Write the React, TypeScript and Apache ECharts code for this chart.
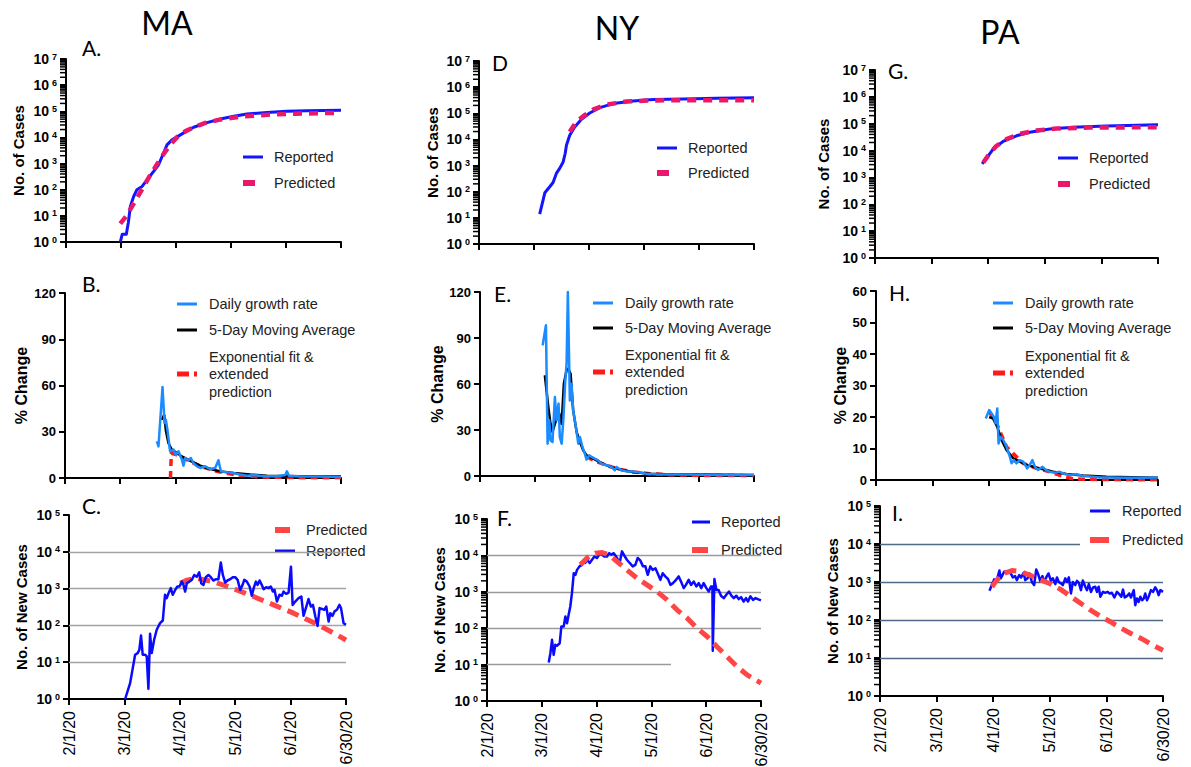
import React, { useEffect, useRef } from 'react';
import * as echarts from 'echarts';

type Pt = [number, number];

// ---------- labels ----------
const tickLabels = ['2/1/20', '3/1/20', '4/1/20', '5/1/20', '6/1/20', '6/30/20'];
const stateTitles = ['MA', 'NY', 'PA'];
const panelLetters = ['A.', 'D', 'G.', 'B.', 'E.', 'H.', 'C.', 'F.', 'I.'];
// minor (2..9 per decade) tick marks of the log axes
const minorMultipliers = [2, 3, 4, 5, 6, 7, 8, 9];
const decades7 = [1, 10, 100, 1000, 10000, 100000, 1000000];
const decades5 = [1, 10, 100, 1000, 10000];

// ---------- data (x = days since 2/1/20) ----------
// Row 1: cumulative cases
const maCumReported: Pt[] = [[29.6,1],[30.7,2],[32.9,2],[34,5.6],[35.1,23],[36.9,55],[38.7,100],[41.5,133],[44.2,240],[47.8,500],[50.5,900],[52.4,1870],[55.1,5200],[57.8,8080],[62.4,12500],[66,17800],[69.6,24600],[76.9,37000],[84.2,51000],[91.5,64700],[98.7,79000],[109.6,89000],[120.5,100000],[131.4,104000],[150,109000]];
const maCumPredicted: Pt[] = [[29.6,5],[33,10],[37,30],[41,90],[45,280],[49,800],[53,2200],[57,5500],[61,11000],[65,17000],[70,25000],[76,36000],[84,48000],[95,62000],[110,74000],[125,81000],[140,85000],[150,86000]];
const nyCumReported: Pt[] = [[33.1,14],[35.9,91],[38.6,155],[40.4,225],[42.2,500],[44,780],[45.9,1380],[47,2900],[47.7,6000],[49.5,14500],[52.2,30000],[55.9,59000],[60.4,103000],[65.9,165000],[73.2,235000],[84.1,296000],[95,334000],[111.4,355000],[129.6,376000],[150,390000]];
const nyCumPredicted: Pt[] = [[49.5,19500],[53.1,47000],[57.7,85000],[62.2,138000],[69.5,214000],[80.4,280000],[93.2,310000],[111,315000],[150,315000]];
const paCumReported: Pt[] = [[56.8,3200],[60,6300],[63,12300],[67.9,21800],[75,35500],[82,48000],[92.6,63000],[105,74000],[122.6,83000],[150,92000]];
const paCumPredicted: Pt[] = [[57.4,3600],[60.9,8000],[64.4,15000],[69.7,26500],[76.8,42000],[85.6,56000],[96.2,66000],[113.8,72000],[150,74000]];

// Row 2: % change
const maDaily: Pt[] = [[49.9,23.8],[50.8,20.5],[53,59],[54.1,35.7],[54.8,37.8],[55.7,31],[57.1,17.3],[59,18.4],[60.2,15.1],[61.7,17.3],[63.5,11.9],[64.4,8],[65.3,13],[67.1,11.5],[68.4,13],[69.8,9.7],[71.7,7.6],[73.5,6.5],[76.2,7.6],[78.9,5.8],[81.6,6.5],[83.4,11.5],[84.7,4.3],[88,3.7],[91.6,3.2],[95.2,2.2],[98.9,1.5],[102.5,2],[106.1,1.5],[109.7,1.1],[115.2,1.1],[119.7,2],[120.6,4.3],[121.7,1.5],[127.9,0.9],[137,0.9],[150,0.6]];
const maMovingAvg: Pt[] = [[52.6,37.8],[53.9,41],[54.8,31],[56.2,22.7],[58,18.4],[60.8,16.2],[63.5,14],[66.2,12.3],[69.8,10.2],[73.5,8],[77.1,6.5],[80.7,5.4],[84.4,4.3],[91.6,3.2],[100.7,2.2],[109.7,1.5],[127.9,1.1],[150,0.9]];
const maExpFit: Pt[] = [[57.3,0],[57.8,16],[60.8,15],[66.2,11.9],[73.5,7.6],[82.5,4.3],[91.6,2.2],[100.7,1.1],[109.7,0.6],[127.9,0.2],[150,0.1]];
const nyDaily: Pt[] = [[34.3,85.2],[36.1,98.3],[37,21.1],[37.9,36.3],[38.6,23.3],[39.7,22.2],[41,51.5],[41.9,36.3],[43,47.2],[43.7,25.4],[44.7,21.1],[45.6,36.3],[46.7,62.4],[47.4,73.3],[48.1,120],[49.2,49.3],[50.1,60.2],[51,42.8],[52.5,32],[53.8,21.1],[54.7,25.4],[56.1,18.9],[57.4,14.6],[58.3,10.7],[59.8,13.5],[61.1,12.4],[62.9,11.3],[64.7,10.2],[66.5,8],[69.3,7],[72,5.9],[73.8,3.7],[74.7,5.9],[77.5,3.7],[80.2,3],[83.8,3],[87.5,2.2],[91.1,1.5],[96.6,1.1],[102,0.9],[111.2,0.9],[129.4,0.7],[150,0.6]];
const nyMovingAvg: Pt[] = [[35.5,65.7],[37.4,45],[38.6,34],[39.7,28.7],[41,34],[42.3,38.5],[43.4,40.7],[44.7,34],[45.9,60.2],[47.4,69],[48.3,70],[49.6,66.7],[51,42.8],[52.9,28.7],[54.7,22.2],[56.5,16.7],[58.3,13.5],[62,11.3],[65.6,9.1],[69.3,7],[72.9,5.4],[78.4,3.7],[83.8,2.6],[93,1.5],[102,1.1],[120.3,0.9],[150,0.7]];
const nyExpFit: Pt[] = [[58.3,12.4],[65.6,8.5],[74.7,4.8],[83.8,2.6],[93,1.5],[102,0.9],[120.3,0.4],[150,0.2]];
const paDaily: Pt[] = [[58.4,19.5],[60.2,22.2],[61.5,21.1],[62.7,20],[63.6,18],[64.5,22.7],[65.2,11.6],[66.2,13.7],[67.7,12.7],[69.4,10.6],[71.2,7.4],[72.1,5.3],[73.3,6.3],[74.7,5.3],[76.5,6.3],[78.3,5.8],[80.4,3.7],[81.8,4.8],[83.2,6.3],[84.5,4.2],[86.2,3.2],[88.6,4.2],[90.3,3.2],[92.4,2.6],[95.1,2.3],[97.8,2.6],[100.4,1.9],[103.1,1.6],[106.6,1.8],[110.2,1.3],[113.7,1.1],[119,0.8],[124.3,0.8],[131.4,0.7],[140.3,0.7],[150,0.8]];
const paMovingAvg: Pt[] = [[60.2,20],[62.3,19.5],[64.5,16.9],[66.8,12.7],[69.4,9.5],[73,6.9],[76.5,5.8],[80,4.8],[83.6,4.2],[88.9,3.4],[94.2,2.6],[101.3,1.9],[110.2,1.4],[122.6,1],[150,0.7]];
const paExpFit: Pt[] = [[60.2,21.7],[64.1,18],[69.4,10.6],[74.7,7.4],[78.3,5.3],[85.4,3.7],[92.4,2.6],[99.5,1.1],[104.8,0.4],[113.7,0.2],[131.4,0.1],[150,0.1]];

// Row 3: new cases
const maNewReported: Pt[] = [[30.4,1],[33.1,2.7],[35.8,16],[37.2,17.7],[38.1,21.8],[39,53],[39.9,16],[41.2,16],[42.1,14.4],[43,1.9],[43.9,59],[44.8,17.7],[46.1,40.6],[47.5,76],[49.3,115],[50.8,136],[52,680],[52.9,550],[53.9,750],[55.1,1030],[56.2,680],[57.5,920],[58.7,1140],[59.8,1140],[61.1,1550],[62,1260],[62.9,830],[63.8,1400],[65.2,1550],[66.5,1730],[67.8,2350],[69.2,2100],[70.5,2750],[71.6,1400],[72.8,1260],[74.1,2040],[75.5,2350],[76.8,2040],[78.2,1660],[79.7,1800],[80.9,1800],[82.2,5100],[83.3,2350],[84.6,1460],[85.8,1660],[87.3,1800],[88.7,2040],[90,2040],[91.3,1730],[92.7,920],[94,1260],[94.9,1730],[96.3,1550],[97.8,1140],[99,640],[100,1030],[101.2,1550],[102.1,1260],[103.2,1660],[104.4,1260],[105.4,960],[106.8,1090],[108.1,1030],[109.3,1140],[110.4,830],[111.3,920],[112.6,445],[114,680],[115.3,640],[116.2,830],[117.6,720],[118.9,780],[120.2,3950],[121.1,360],[122.5,445],[124.3,550],[125.8,610],[127,182],[128.5,325],[129.7,520],[131,325],[132.1,360],[133.4,175],[134.6,97],[135.7,295],[137,280],[138.2,265],[139.3,325],[140.6,127],[141.5,215],[142.7,182],[143.8,240],[145.1,265],[146.4,360],[147.3,295],[148.7,115],[150,104]];
const maNewPredicted: Pt[] = [[60.2,1400],[64,1700],[69.2,1900],[78.2,1550],[89.1,1000],[99.9,610],[110.8,360],[121.6,215],[132.4,120],[143.3,62],[150,40]];
const nyNewReported: Pt[] = [[33.8,11.4],[34.7,20.5],[35.6,48],[36.5,18.5],[37.4,35],[38.3,33],[39.8,38.6],[40.7,111],[42,111],[42.9,209],[43.8,137],[44.7,233],[45.6,395],[46.5,915],[47.5,3250],[48.4,2930],[49.3,4000],[50.6,5000],[52,5500],[52.9,6800],[53.8,6200],[54.8,7600],[56.2,6200],[57.5,7600],[58.8,9300],[60.2,8500],[61.7,11100],[63,10500],[64.2,9300],[65.7,9300],[66.9,11500],[68.1,10500],[69.4,11500],[71.2,8500],[72.6,6200],[73.9,12900],[75.2,9800],[76.6,7600],[78.1,6200],[79.8,5000],[81.2,5500],[82.5,8500],[83.9,7300],[85.4,5000],[86.7,5000],[88,2930],[89.4,5000],[90.7,4000],[92.2,4450],[93.4,3250],[94.9,2130],[96.2,3250],[97.6,2650],[99.1,2250],[100.4,1550],[101.8,1730],[103.5,2130],[104.9,2650],[106.2,1920],[107.7,1260],[108.9,1550],[110.4,2130],[111.7,1550],[113.2,1920],[114.6,1400],[115.9,1730],[117.3,1260],[118.6,1730],[120.1,1260],[121.4,1020],[122.6,1400],[123.4,1400],[123.6,24],[124.5,2230],[125.6,1120],[126.8,1120],[128.1,780],[129.6,670],[131,830],[132.5,1020],[133.8,780],[135.1,670],[136.5,780],[137.8,630],[139.1,715],[140.5,540],[141.8,670],[142.9,540],[144.2,750],[145.6,600],[147,670],[148.2,630],[150,580]];
const nyNewPredicted: Pt[] = [[51.1,5500],[54.8,8500],[59.3,11500],[63,12000],[66.6,10500],[71.2,6800],[76.6,4000],[82.1,2380],[87.6,1550],[93,1020],[98.6,600],[104,320],[109.5,190],[115,100],[120.5,59],[125.9,31],[131.4,16.6],[136.9,8.8],[142.4,5.2],[150,3.1]];
const paNewReported: Pt[] = [[58,590],[59.3,830],[60.5,1170],[61.4,1010],[62.3,1320],[63.3,2000],[64,1250],[64.9,1520],[65.8,1860],[66.9,1900],[68.1,1860],[69.3,1680],[70.4,1320],[71.6,1430],[72.5,1120],[73.8,1520],[74.8,1320],[76.1,1750],[77,1120],[78.2,1250],[79.2,1680],[80.5,1000],[81.7,830],[82.8,2140],[84,1520],[84.9,1070],[86.1,1430],[87,1000],[88.1,1320],[89.3,1680],[90.6,1070],[91.6,1250],[92.9,880],[93.8,1320],[94.8,1000],[95.9,920],[96.9,830],[98.2,1250],[99.1,1000],[100.1,1320],[101.2,500],[102.2,1000],[103.5,830],[104.4,1070],[105.4,950],[106.5,610],[107.5,1100],[108.8,750],[109.7,610],[110.7,880],[111.8,550],[112.9,720],[114.1,750],[115,550],[115.9,750],[116.8,410],[118.2,550],[119.4,520],[120.6,550],[121.7,500],[122.9,520],[124.2,390],[125.6,550],[126.8,480],[127.9,410],[128.8,630],[129.7,390],[130.9,425],[132.1,500],[133,390],[134.5,610],[135.3,245],[136.2,370],[137.1,300],[138,410],[138.9,330],[139.8,370],[140.6,500],[141.5,330],[142.4,410],[143.6,610],[144.7,550],[145.9,720],[146.8,610],[147.7,450],[148.6,610],[150,550]];
const paNewPredicted: Pt[] = [[59.3,750],[61.9,1120],[65.5,1680],[69.9,2000],[74.3,1900],[79.6,1500],[84.9,1150],[90.2,900],[95.5,650],[100.8,430],[106.1,280],[111.4,185],[116.8,125],[122.1,90],[127.4,62],[132.7,45],[139.8,30],[145,21],[150,16]];

// Row 3 horizontal reference lines: [value, last day]
const maGridLines: Pt[] = [[10, 150], [100, 150], [1000, 150], [10000, 150]];
const nyGridLines: Pt[] = [[10, 100.7], [100, 150], [1000, 150], [10000, 150]];
const paGridLines: Pt[] = [[10, 150], [100, 150], [1000, 150], [10000, 106]];

// ---------- styling ----------
const FONT = "'Liberation Sans', Arial, Helvetica, sans-serif";
const TITLE_FONT = "Lato, 'Open Sans', sans-serif";
const BLUE = '#1414ff';
const PINK = '#e8196b';
const LIGHT = '#1a8cff';
const RED = '#ff1a1a';
const RED3 = '#ff4545';
const NAVY = '#0a0aff';

const grids = [
  { left: 66, top: 59, width: 275, height: 183 },
  { left: 479, top: 61, width: 275, height: 183 },
  { left: 875, top: 70, width: 283, height: 188 },
  { left: 65, top: 293, width: 276, height: 185 },
  { left: 480, top: 292, width: 274, height: 184 },
  { left: 876, top: 291, width: 282, height: 189 },
  { left: 69, top: 515, width: 277, height: 184 },
  { left: 487, top: 519, width: 274, height: 182 },
  { left: 880, top: 506, width: 283, height: 190 },
];

const axisLine = { show: true, onZero: false, lineStyle: { color: '#000', width: 2 } };
const axisTick = { show: true, length: 6, lineStyle: { color: '#000', width: 2 } };

function xAxisFor(i: number) {
  return {
    type: 'value', gridIndex: i, min: 0, max: 150, interval: 30,
    axisLine, axisTick,
    axisLabel: {
      show: i >= 6, rotate: 90, margin: 12, fontSize: 16, color: '#000', fontFamily: FONT,
      formatter: (v: number) => tickLabels[Math.round(v / 30)] ?? '',
    },
    splitLine: { show: false },
  };
}

const supRich = {
  b: { fontSize: 14, fontWeight: 'bold', fontFamily: FONT, color: '#000' },
  s: { fontSize: 9, fontWeight: 'bold', fontFamily: FONT, color: '#000', verticalAlign: 'top', padding: [0, 0, 0, 3] },
};

function nameStyle(size: number) {
  return { fontSize: size, fontWeight: 'bold', fontFamily: FONT, color: '#000' };
}

function logY(i: number, max: number, name: string, gap: number) {
  return {
    type: 'log', logBase: 10, gridIndex: i, min: 1, max, splitNumber: Math.round(Math.log10(max)),
    name, nameLocation: 'middle', nameGap: gap, nameTextStyle: nameStyle(15),
    axisLine, axisTick,
    axisLabel: {
      margin: 9,
      formatter: (v: number) => '{b|10}{s|' + Math.round(Math.log10(v)) + '}',
      rich: supRich,
    },
    splitLine: { show: false },
  };
}

function linY(i: number, max: number, interval: number, gap: number) {
  return {
    type: 'value', gridIndex: i, min: 0, max, interval,
    name: '% Change', nameLocation: 'middle', nameGap: gap, nameTextStyle: nameStyle(16),
    axisLine, axisTick,
    axisLabel: { margin: 9, fontSize: 13, fontWeight: 'bold', fontFamily: FONT, color: '#000' },
    splitLine: { show: false },
  };
}

function line(i: number, name: string, data: Pt[], color: string, width: number, dash?: number[], extra: any = {}) {
  return {
    type: 'line', name, xAxisIndex: i, yAxisIndex: i, data,
    showSymbol: false, symbol: 'none',
    lineStyle: { color, width, type: dash ? dash : 'solid', cap: 'butt', join: 'round' },
    itemStyle: { color },
    ...extra,
  };
}

// short tick marks at 2..9 x 10^k, placed on the log y axis (x = 0)
function minorTicks(i: number, decades: number[]) {
  const data: Pt[] = [];
  decades.forEach((d) => minorMultipliers.forEach((m) => data.push([0, m * d])));
  return {
    type: 'scatter', name: 'minor ticks', xAxisIndex: i, yAxisIndex: i, data,
    symbol: 'rect', symbolSize: [6, 1.5], symbolOffset: [-3, 0],
    itemStyle: { color: '#000', opacity: 1 }, silent: true, clip: false, z: 3,
    emphasis: { disabled: true }, tooltip: { show: false },
  };
}

function gridMark(lines: Pt[], color: string) {
  return {
    markLine: {
      silent: true, symbol: 'none', z: 1, animation: false,
      label: { show: false },
      lineStyle: { color, width: 1.3, type: 'solid' },
      emphasis: { disabled: true },
      data: lines.map(([v, end]) => [{ coord: [0, v] }, { coord: [end, v] }]),
    },
  };
}

function buildGraphic() {
  const g: any[] = [];
  const txt = (x: number, y: number, text: string, size = 14, family = FONT, color = '#222', align = 'left') =>
    g.push({
      type: 'text', x, y, silent: true,
      style: { text, fill: color, fontSize: size, fontFamily: family, align, verticalAlign: 'middle', textAlign: align, textVerticalAlign: 'middle' },
    });
  const seg = (x1: number, x2: number, y: number, color: string, width: number) =>
    g.push({ type: 'line', silent: true, shape: { x1, y1: y, x2, y2: y }, style: { stroke: color, lineWidth: width } });

  txt(167, 22, stateTitles[0], 32, TITLE_FONT, '#000', 'center');
  txt(617, 27, stateTitles[1], 32, TITLE_FONT, '#000', 'center');
  txt(1000, 31, stateTitles[2], 32, TITLE_FONT, '#000', 'center');

  const letterPos: Pt[] = [[82, 47], [492, 62], [888, 70], [82, 283], [494, 293], [889, 292], [82, 505], [497, 517], [892, 512]];
  panelLetters.forEach((l, k) => txt(letterPos[k][0], letterPos[k][1], l, 21, TITLE_FONT, '#000'));

  const row1: [number, number, number][] = [[243, 157, 183], [657, 148, 173], [1058, 158, 184]];
  row1.forEach(([x, y1, y2]) => {
    seg(x, x + 20, y1, BLUE, 3);
    txt(x + 31, y1, 'Reported', 14.5);
    seg(x, x + 12, y2, PINK, 6);
    txt(x + 31, y2, 'Predicted', 14.5);
  });

  const row2: [number, number, number, number][] = [[177, 304, 330, 357], [593, 303, 328, 355], [993, 303, 328, 356]];
  row2.forEach(([x, yA, yB, yC]) => {
    seg(x, x + 20, yA, LIGHT, 3);
    txt(x + 32, yA, 'Daily growth rate', 14.5);
    seg(x, x + 20, yB, '#000', 3);
    txt(x + 32, yB, '5-Day Moving Average', 14.5);
    txt(x + 32, yC, 'Exponential fit &', 14.5);
    seg(x, x + 12, yC + 17, RED, 5);
    seg(x + 17, x + 20, yC + 17, RED, 5);
    txt(x + 32, yC + 17, 'extended', 14.5);
    txt(x + 32, yC + 35, 'prediction', 14.5);
  });

  seg(275, 290, 530, RED3, 6);
  txt(306, 530, 'Predicted', 14.5);
  seg(275, 295, 551, NAVY, 3);
  txt(306, 551, 'Reported', 14.5);

  seg(692, 710, 522, NAVY, 3);
  txt(721, 522, 'Reported', 14.5);
  seg(692, 708, 550, RED3, 6);
  txt(721, 550, 'Predicted', 14.5);

  seg(1090, 1110, 511, NAVY, 3);
  txt(1122, 511, 'Reported', 14.5);
  seg(1090, 1109, 540, RED3, 6);
  txt(1122, 540, 'Predicted', 14.5);

  return g;
}

function buildOption() {
  const xAxis = grids.map((_, i) => xAxisFor(i));
  const yAxis = [
    logY(0, 1e7, 'No. of Cases', 40),
    logY(1, 1e7, 'No. of Cases', 39),
    logY(2, 1e7, 'No. of Cases', 44),
    linY(3, 120, 30, 36),
    linY(4, 120, 30, 35),
    linY(5, 60, 10, 28),
    logY(6, 1e5, 'No. of New Cases', 40),
    logY(7, 1e5, 'No. of New Cases', 40),
    logY(8, 1e5, 'No. of New Cases', 40),
  ];
  const series = [
    line(0, 'Reported', maCumReported, BLUE, 3),
    line(0, 'Predicted', maCumPredicted, PINK, 4.5, [9, 7]),
    line(1, 'Reported', nyCumReported, BLUE, 3),
    line(1, 'Predicted', nyCumPredicted, PINK, 4.5, [9, 7]),
    line(2, 'Reported', paCumReported, BLUE, 3),
    line(2, 'Predicted', paCumPredicted, PINK, 4.5, [9, 7]),

    line(3, 'Exponential fit & extended prediction', maExpFit, RED, 3.5, [7, 5]),
    line(3, '5-Day Moving Average', maMovingAvg, '#000', 2.5),
    line(3, 'Daily growth rate', maDaily, LIGHT, 2.5),
    line(4, 'Exponential fit & extended prediction', nyExpFit, RED, 3.5, [7, 5]),
    line(4, '5-Day Moving Average', nyMovingAvg, '#000', 2.5),
    line(4, 'Daily growth rate', nyDaily, LIGHT, 2.5),
    line(5, 'Exponential fit & extended prediction', paExpFit, RED, 3.5, [7, 5]),
    line(5, '5-Day Moving Average', paMovingAvg, '#000', 2.5),
    line(5, 'Daily growth rate', paDaily, LIGHT, 2.5),

    line(6, 'Predicted', maNewPredicted, RED3, 5, [12, 7], gridMark(maGridLines, '#a3a3a3')),
    line(6, 'Reported', maNewReported, NAVY, 2.5),
    line(7, 'Reported', nyNewReported, NAVY, 2.5, undefined, gridMark(nyGridLines, '#9a9a9a')),
    line(7, 'Predicted', nyNewPredicted, RED3, 5, [12, 7]),
    line(8, 'Reported', paNewReported, NAVY, 2.5, undefined, gridMark(paGridLines, '#4f6a82')),
    line(8, 'Predicted', paNewPredicted, RED3, 5, [12, 7]),

    minorTicks(0, decades7),
    minorTicks(1, decades7),
    minorTicks(2, decades7),
    minorTicks(7, decades5),
    minorTicks(8, decades5),
  ];
  return {
    animation: false,
    backgroundColor: '#ffffff',
    textStyle: { fontFamily: FONT },
    grid: grids.map((g) => ({ ...g, containLabel: false, outerBoundsMode: 'none' })),
    xAxis,
    yAxis,
    series,
    graphic: buildGraphic(),
  };
}

export default function App() {
  const ref = useRef<HTMLDivElement>(null);
  useEffect(() => {
    if (!ref.current) return;
    const chart = echarts.init(ref.current, null, { renderer: 'svg' });
    chart.setOption(buildOption() as any);
    return () => chart.dispose();
  }, []);
  return (
    <div
      ref={ref}
      style={{ position: 'fixed', left: 0, top: 0, width: 1191, height: 767, background: '#fff' }}
    />
  );
}
